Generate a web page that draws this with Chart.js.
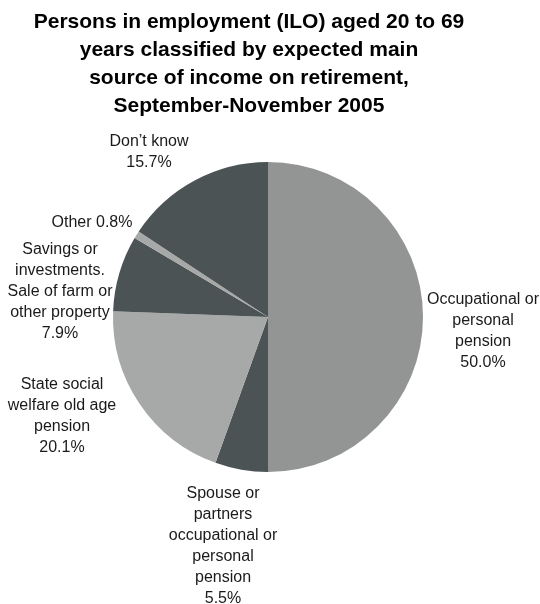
<!DOCTYPE html>
<html>
<head>
<meta charset="utf-8">
<script src="https://cdn.jsdelivr.net/npm/chart.js@4/dist/chart.umd.min.js"></script>
<style>
  html, body { margin: 0; padding: 0; background: #fff; }
  #chart { display: block; }
</style>
</head>
<body>
<canvas id="chart" width="540" height="604"></canvas>
<script>
let titleLines = [
    'Persons in employment (ILO) aged 20 to 69',
    'years classified by expected main',
    'source of income on retirement,',
    'September-November 2005'
];
let categories = [
    'Occupational or personal pension',
    'Spouse or partners occupational or personal pension',
    'State social welfare old age pension',
    'Savings or investments. Sale of farm or other property',
    'Other',
    "Don\u2019t know"
];
let shares = [50.0, 5.5, 20.1, 7.9, 0.8, 15.7];
// label text as printed beside each slice (the value line is added from shares)
let labelLines = [
    ['Occupational or', 'personal', 'pension'],
    ['Spouse or', 'partners', 'occupational or', 'personal', 'pension'],
    ['State social', 'welfare old age', 'pension'],
    ['Savings or', 'investments.', 'Sale of farm or', 'other property'],
    ['Other'],
    ["Don\u2019t know"]
];
let sliceColors = ['#939494', '#4b5354', '#a7a9a8', '#4b5354', '#a7a9a8', '#4b5354'];

// where each label block sits, relative to the pie centre
let labelOffsets = [
    [215, 14], [-45, 229], [-206, 99], [-208, -25], [-176, -94], [-119, -165]
];

const labelFont = '16px "Liberation Sans", Arial, sans-serif';
const lineGap = 21;

const titlePlugin = {
    id: 'bigTitle',
    afterDraw(chart) {
        let ctx = chart.ctx;
        ctx.save();
        ctx.fillStyle = '#000';
        ctx.font = 'bold 21px "Liberation Sans", Arial, sans-serif';
        ctx.textAlign = 'center';
        ctx.textBaseline = 'middle';
        titleLines.forEach((line, i) => {
            ctx.fillText(line, 249, 22 + i * 28);
        });
        ctx.restore();
    }
};

const sliceLabels = {
    id: 'sliceLabels',
    afterDraw(chart) {
        let ctx = chart.ctx;
        let arcs = chart.getDatasetMeta(0).data;
        ctx.save();
        ctx.fillStyle = '#1a1a1a';
        ctx.font = labelFont;
        ctx.textAlign = 'center';
        ctx.textBaseline = 'middle';
        arcs.forEach((arc, i) => {
            let pct = shares[i].toFixed(1) + '%';
            let lines = labelLines[i].slice();
            if (lines.length === 1 && categories[i] === 'Other') {
                lines = [lines[0] + ' ' + pct];
            } else {
                lines.push(pct);
            }
            let cx = arc.x + labelOffsets[i][0];
            let cy = arc.y + labelOffsets[i][1];
            let top = cy - (lines.length - 1) * lineGap / 2;
            lines.forEach((t, j) => ctx.fillText(t, cx, top + j * lineGap));
        });
        ctx.restore();
    }
};

new Chart(document.getElementById('chart'), {
    type: 'pie',
    data: {
        labels: categories,
        datasets: [{
            data: shares,
            backgroundColor: sliceColors,
            borderWidth: 0
        }]
    },
    options: {
        responsive: false,
        animation: false,
        layout: {
            padding: { left: 113, right: 117, top: 162, bottom: 132 }
        },
        plugins: {
            legend: { display: false },
            tooltip: { enabled: false },
            title: { display: false }
        }
    },
    plugins: [titlePlugin, sliceLabels]
});
</script>
</body>
</html>
